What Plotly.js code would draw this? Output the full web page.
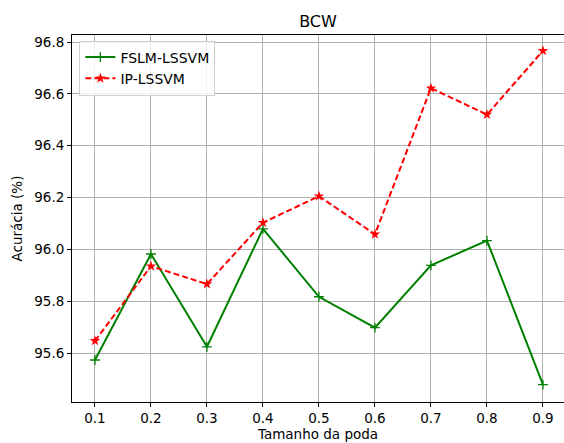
<!DOCTYPE html>
<html><head><meta charset="utf-8">
<script src="https://cdn.plot.ly/plotly-3.0.1.min.js"></script>
<style>html,body{margin:0;padding:0;background:#fff}#chart{width:564px;height:443px}</style>
</head><body><div id="chart"></div>
<script>
const pruneSizes = [0.1, 0.2, 0.3, 0.4, 0.5, 0.6, 0.7, 0.8, 0.9];
const fslmLssvm = [95.573, 95.982, 95.624, 96.079, 95.817, 95.698, 95.938, 96.034, 95.478];
const ipLssvm = [95.647, 95.935, 95.866, 96.103, 96.205, 96.058, 96.622, 96.520, 96.766];
const xTickVals = [0.1, 0.2, 0.3, 0.4, 0.5, 0.6, 0.7, 0.8, 0.9];
const xTickText = ['0.1', '0.2', '0.3', '0.4', '0.5', '0.6', '0.7', '0.8', '0.9'];
const yTickVals = [95.6, 95.8, 96.0, 96.2, 96.4, 96.6, 96.8];
const yTickText = ['95.6', '95.8', '96.0', '96.2', '96.4', '96.6', '96.8'];

const font = 'DejaVu Sans, sans-serif';
const traces = [
  {x: pruneSizes, y: fslmLssvm, name: 'FSLM-LSSVM', mode: 'lines+markers', type: 'scatter',
   line: {color: 'green', width: 2},
   marker: {symbol: 'cross-thin', size: 7, color: 'green', line: {color: 'green', width: 1.3}}},
  {x: pruneSizes, y: ipLssvm, name: 'IP-LSSVM', mode: 'lines+markers', type: 'scatter',
   line: {color: 'red', width: 2, dash: '6px,3px'},
   marker: {symbol: 'star', size: 8, color: 'red', line: {width: 0}}}
];
const layout = {
  width: 564, height: 443,
  margin: {l: 72, r: 0, t: 35, b: 41},
  paper_bgcolor: '#fff', plot_bgcolor: '#fff',
  font: {family: font, size: 13, color: '#000'},
  title: {text: 'BCW', font: {family: font, size: 16, color: '#000'}, x: 0.5, xref: 'paper', xanchor: 'center', y: 1, yref: 'paper', yanchor: 'bottom', pad: {b: 8}},
  xaxis: {range: [0.059, 0.9376], tickvals: xTickVals, ticktext: xTickText,
    showgrid: true, gridcolor: '#b0b0b0', gridwidth: 1, zeroline: false,
    showline: true, linecolor: '#000', linewidth: 1, mirror: true,
    ticks: 'outside', ticklen: 4, tickcolor: '#000', tickfont: {size: 13.5},
    title: {text: 'Tamanho da poda', font: {size: 13.5}, standoff: 4}},
  yaxis: {range: [95.411, 96.827], tickvals: yTickVals, ticktext: yTickText,
    showgrid: true, gridcolor: '#b0b0b0', gridwidth: 1, zeroline: false,
    showline: true, linecolor: '#000', linewidth: 1, mirror: true,
    ticks: 'outside', ticklen: 4, tickcolor: '#000', tickfont: {size: 13.5},
    title: {text: 'Acurácia (%)', font: {size: 13.5}, standoff: 8}},
  legend: {x: 0.015, y: 0.985, xanchor: 'left', yanchor: 'top', bgcolor: 'rgba(255,255,255,0.8)',
    bordercolor: '#d0d0d0', borderwidth: 1, font: {size: 14}, tracegroupgap: 0},
  showlegend: true
};
Plotly.newPlot('chart', traces, layout, {staticPlot: true});
</script></body></html>
